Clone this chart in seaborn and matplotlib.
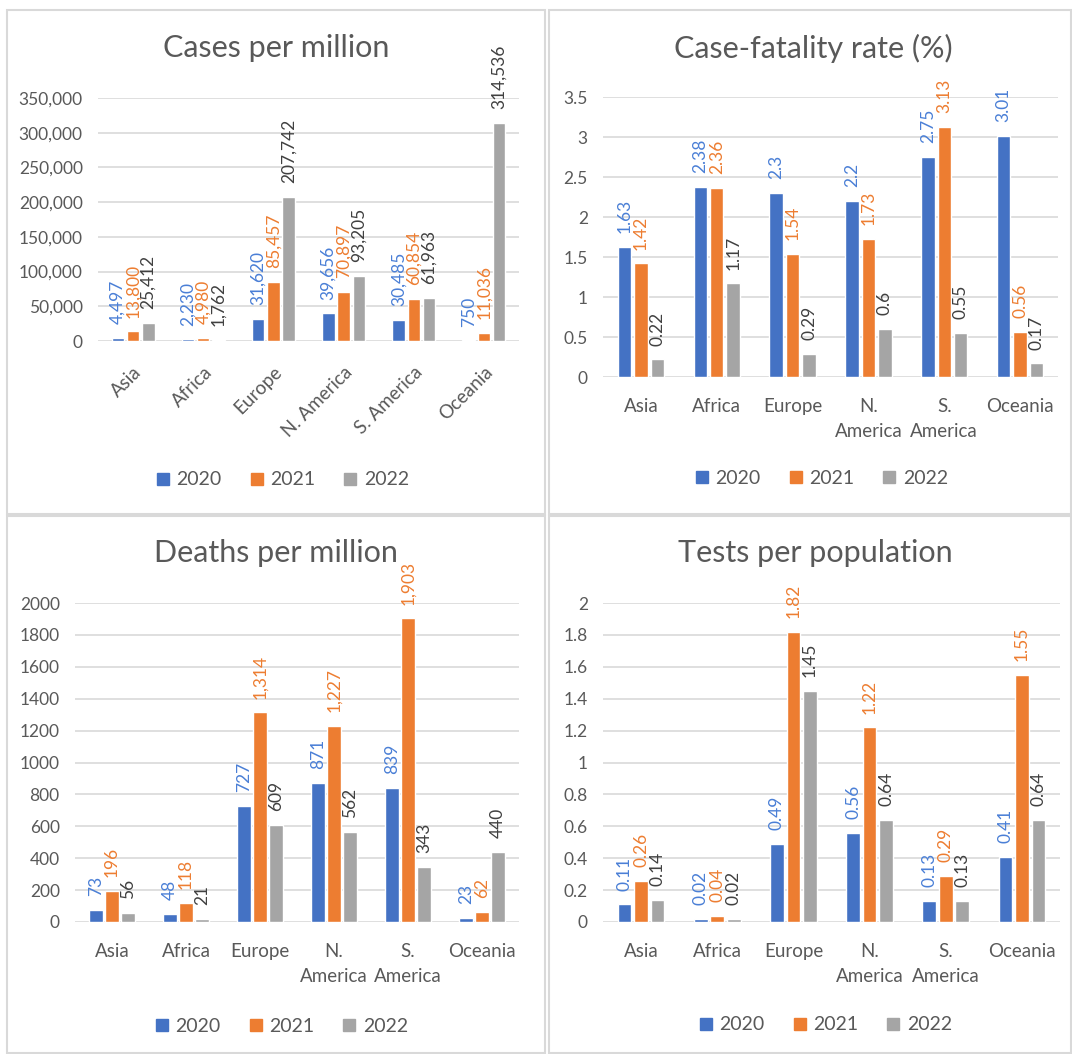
import matplotlib
matplotlib.use("Agg")
import matplotlib.pyplot as plt
from matplotlib.patches import Rectangle
from matplotlib.ticker import FuncFormatter, MultipleLocator
from matplotlib.lines import Line2D
import seaborn as sns
import pandas as pd

# ---- data ---------------------------------------------------------------
regions = ["Asia", "Africa", "Europe", "N. America", "S. America", "Oceania"]
years = ["2020", "2021", "2022"]

cases_2020 = [4497, 2230, 31620, 39656, 30485, 750]
cases_2021 = [13800, 4980, 85457, 70897, 60854, 11036]
cases_2022 = [25412, 1762, 207742, 93205, 61963, 314536]

cfr_2020 = [1.63, 2.38, 2.3, 2.2, 2.75, 3.01]
cfr_2021 = [1.42, 2.36, 1.54, 1.73, 3.13, 0.56]
cfr_2022 = [0.22, 1.17, 0.29, 0.6, 0.55, 0.17]

deaths_2020 = [73, 48, 727, 871, 839, 23]
deaths_2021 = [196, 118, 1314, 1227, 1903, 62]
deaths_2022 = [56, 21, 609, 562, 343, 440]

tests_2020 = [0.11, 0.02, 0.49, 0.56, 0.13, 0.41]
tests_2021 = [0.26, 0.04, 1.82, 1.22, 0.29, 1.55]
tests_2022 = [0.14, 0.02, 1.45, 0.64, 0.13, 0.64]

titles = ["Cases per million", "Case-fatality rate (%)",
          "Deaths per million", "Tests per population"]

# ---- style --------------------------------------------------------------
sns.set_theme(style="white")
plt.rcParams["font.family"] = ["Lato", "DejaVu Sans"]

TEXT = "#595959"
GRID = "#D9D9D9"
bar_colors = {"2020": "#4472C4", "2021": "#ED7D31", "2022": "#A5A5A5"}
label_colors = ["#4A7FD6", "#ED7D31", "#404040"]

W, H = 1072, 1054
fig = plt.figure(figsize=(W / 100, H / 100), dpi=100)
fig.patch.set_facecolor("white")


def long_table(s2020, s2021, s2022):
    rows = []
    for yr, series in zip(years, (s2020, s2021, s2022)):
        for reg, v in zip(regions, series):
            rows.append({"region": reg, "year": yr, "value": v})
    return pd.DataFrame(rows)


def px_axes(x0, y0, x1, y1):
    return fig.add_axes([x0 / W, 1 - y1 / H, (x1 - x0) / W, (y1 - y0) / H])


def panel_box(x0, y0, x1, y1):
    fig.patches.append(Rectangle((x0 / W, 1 - y1 / H), (x1 - x0) / W, (y1 - y0) / H,
                                 transform=fig.transFigure, fill=False,
                                 edgecolor=GRID, linewidth=1.5, zorder=0))


def draw_panel(box, title, title_xy, legend_xy, df, ymax, ystep,
               ytick_fmt, label_fmt, rotated):
    ax = px_axes(*box)
    sns.barplot(data=df, x="region", y="value", hue="year", order=regions,
                hue_order=years, palette=bar_colors, width=0.65, gap=0.18,
                saturation=1, legend=False, ax=ax, zorder=3)
    ax.set_ylim(0, ymax)
    ax.set_xlim(-0.5, len(regions) - 0.5)
    ax.yaxis.set_major_locator(MultipleLocator(ystep))
    ax.yaxis.set_major_formatter(FuncFormatter(ytick_fmt))
    ax.grid(axis="y", color=GRID, linewidth=1.2, zorder=0)
    ax.set_axisbelow(True)
    for s in ax.spines.values():
        s.set_visible(False)
    ax.set_xlabel("")
    ax.set_ylabel("")
    ax.tick_params(axis="y", length=0, pad=11, labelsize=12.5, labelcolor=TEXT)
    ax.tick_params(axis="x", length=0, labelsize=13.5, labelcolor=TEXT)

    ax.set_xticks(range(len(regions)))
    if rotated:
        ax.set_xticklabels(regions, rotation=45, ha="right",
                           rotation_mode="anchor")
        ax.tick_params(axis="x", pad=16)
    else:
        ax.set_xticklabels([r.replace(". ", ".\n") for r in regions],
                           linespacing=1.6, va="top")
        ax.tick_params(axis="x", pad=15)

    for cont, col in zip(ax.containers, label_colors):
        ax.bar_label(cont, fmt=label_fmt, rotation=90, padding=10,
                     fontsize=12.5, color=col)

    fig.text(title_xy[0] / W, 1 - title_xy[1] / H, title, ha="center",
             va="center", fontsize=22, color=TEXT)

    handles = [Line2D([], [], marker="s", linestyle="", markersize=9,
                      color=bar_colors[y]) for y in years]
    ax.legend(handles, years, loc="center", ncol=3, frameon=False,
              bbox_to_anchor=(legend_xy[0] / W, 1 - legend_xy[1] / H),
              bbox_transform=fig.transFigure, fontsize=14,
              labelcolor=TEXT, handletextpad=0.2, columnspacing=1.3,
              handlelength=1.0)
    return ax


comma0 = lambda v, _=None: f"{v:,.0f}"
plain0 = lambda v, _=None: f"{v:.0f}"
short = lambda v, _=None: f"{round(v, 6):g}"

# panel frames
panel_box(7, 10, 545, 514)
panel_box(549, 10, 1071, 514)
panel_box(7, 516, 545, 1053)
panel_box(549, 516, 1071, 1053)

draw_panel((98, 98, 519, 341), titles[0], (276, 48), (281, 480),
           long_table(cases_2020, cases_2021, cases_2022),
           350000, 50000, comma0, lambda v: f"{v:,.0f}", rotated=True)

draw_panel((603, 97, 1058, 377), titles[1], (813, 48), (820, 478),
           long_table(cfr_2020, cfr_2021, cfr_2022),
           3.5, 0.5, short, lambda v: f"{v:g}", rotated=False)

draw_panel((75, 603, 519, 922), titles[2], (276, 553), (280, 1026),
           long_table(deaths_2020, deaths_2021, deaths_2022),
           2000, 200, plain0, lambda v: f"{v:,.0f}", rotated=False)

draw_panel((603, 603, 1060, 922), titles[3], (815, 553), (824, 1025),
           long_table(tests_2020, tests_2021, tests_2022),
           2, 0.2, short, lambda v: f"{v:g}", rotated=False)

fig.savefig("out.png", dpi=100, facecolor="white")
